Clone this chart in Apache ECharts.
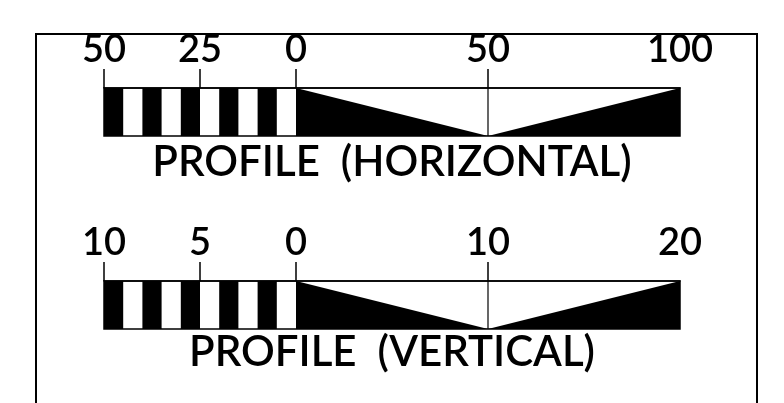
<!DOCTYPE html>
<html>
<head>
<meta charset="utf-8">
<script src="https://cdn.jsdelivr.net/npm/echarts@6/dist/echarts.min.js"></script>
<style>
  html, body { margin: 0; padding: 0; background: #fff; }
  #chart { width: 784px; height: 403px; }
</style>
</head>
<body>
<div id="chart"></div>
<script>
// horizontal scale (0..100 right, 0..50 left shown as negative side)
const hRange = [-50, 100];
const hTickVals = [-50, -25, 0, 50];
const hLabelVals = [-50, -25, 0, 50, 100];
const hBlack = [[-50, -45], [-40, -35], [-30, -25], [-20, -15], [-10, -5]];
const hWedges = [[[0, 1], [0, 0], [50, 0]], [[50, 0], [100, 0], [100, 1]]];
const hMid = 50;

// vertical scale
const vRange = [-10, 20];
const vTickVals = [-10, -5, 0, 10];
const vLabelVals = [-10, -5, 0, 10, 20];
const vBlack = [[-10, -9], [-8, -7], [-6, -5], [-4, -3], [-2, -1]];
const vWedges = [[[0, 1], [0, 0], [10, 0]], [[10, 0], [20, 0], [20, 1]]];
const vMid = 10;

const titles = ['PROFILE  (HORIZONTAL)', 'PROFILE  (VERTICAL)'];

const font = 'Lato';
const chart = echarts.init(document.getElementById('chart'));

function xAxisFor(idx, range, interval, ticks, labels) {
  return {
    gridIndex: idx, type: 'value', position: 'top',
    min: range[0], max: range[1], interval: interval,
    axisLine: { show: true, onZero: false, lineStyle: { color: '#000', width: 1.5 } },
    axisTick: { show: true, length: 19, customValues: ticks, lineStyle: { color: '#000', width: 1.5 } },
    axisLabel: {
      customValues: labels, formatter: v => String(Math.abs(v)),
      color: '#000', fontFamily: font, fontWeight: 600, fontSize: 38, margin: 19
    },
    splitLine: { show: false }
  };
}

function barSeries(idx, range, black, wedges, mid) {
  return [
    {
      type: 'custom', xAxisIndex: idx, yAxisIndex: idx,
      data: black,
      renderItem: (params, api) => {
        const p0 = api.coord([api.value(0), 1]);
        const p1 = api.coord([api.value(1), 0]);
        return { type: 'rect', shape: { x: p0[0], y: p0[1], width: p1[0] - p0[0], height: p1[1] - p0[1] }, style: { fill: '#000' } };
      }
    },
    {
      type: 'custom', xAxisIndex: idx, yAxisIndex: idx,
      data: wedges.map((w, i) => [i]),
      renderItem: (params, api) => {
        const pts = wedges[params.dataIndex].map(p => api.coord(p));
        return { type: 'polygon', shape: { points: pts }, style: { fill: '#000' } };
      }
    },
    {
      type: 'custom', xAxisIndex: idx, yAxisIndex: idx,
      data: [range],
      renderItem: (params, api) => {
        const p0 = api.coord([api.value(0), 1]);
        const p1 = api.coord([api.value(1), 0]);
        return { type: 'rect', shape: { x: p0[0], y: p0[1], width: p1[0] - p0[0], height: p1[1] - p0[1] }, style: { fill: 'none', stroke: '#000', lineWidth: 1.5 } };
      }
    },
    {
      type: 'line', xAxisIndex: idx, yAxisIndex: idx,
      data: [[mid, 0], [mid, 1]], symbol: 'none', silent: true,
      lineStyle: { color: '#000', width: 1.2 }
    }
  ];
}

chart.setOption({
  animation: false,
  grid: [
    { left: 104, right: 104, top: 88, height: 48 },
    { left: 104, right: 104, top: 281, height: 48 }
  ],
  xAxis: [
    xAxisFor(0, hRange, 25, hTickVals, hLabelVals),
    xAxisFor(1, vRange, 5, vTickVals, vLabelVals)
  ],
  yAxis: [
    { gridIndex: 0, type: 'value', min: 0, max: 1, show: false },
    { gridIndex: 1, type: 'value', min: 0, max: 1, show: false }
  ],
  graphic: [
    { type: 'polyline', shape: { points: [[36, 410], [36, 34], [757, 34], [757, 410]] }, style: { fill: 'none', stroke: '#000', lineWidth: 2 } },
    { type: 'text', x: 392, y: 162, style: { text: titles[0], fill: '#000', font: '600 42px Lato', textAlign: 'center', textVerticalAlign: 'middle' } },
    { type: 'text', x: 392, y: 352, style: { text: titles[1], fill: '#000', font: '600 42px Lato', textAlign: 'center', textVerticalAlign: 'middle' } }
  ],
  series: [
    ...barSeries(0, hRange, hBlack, hWedges, hMid),
    ...barSeries(1, vRange, vBlack, vWedges, vMid)
  ]
});
</script>
</body>
</html>
